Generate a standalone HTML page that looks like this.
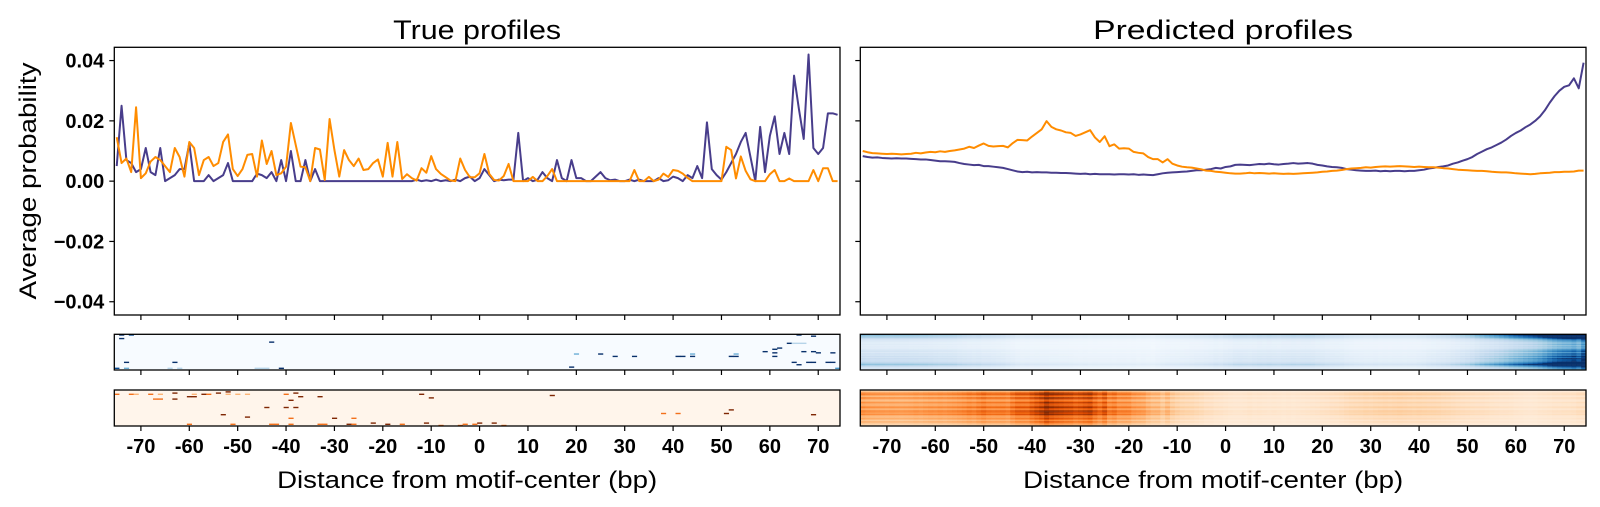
<!DOCTYPE html>
<html><head><meta charset="utf-8"><style>
html,body{margin:0;padding:0;background:#fff;}
svg{display:block;font-family:"Liberation Sans",sans-serif;}
</style></head><body>
<svg id="fig" width="1600" height="507" viewBox="0 0 1600 507" xmlns="http://www.w3.org/2000/svg"></svg>
<script>
// ---- data ----
const positions = []; for (let i = -75; i <= 74; i++) positions.push(i);
const xTickLabels = [-70,-60,-50,-40,-30,-20,-10,0,10,20,30,40,50,60,70];
const yTickValues = [-0.04,-0.02,0,0.02,0.04];
const yTickLabels = ["\u22120.04","\u22120.02","0.00","0.02","0.04"];
const panelTitles = ["True profiles","Predicted profiles"];

const trueStrand1 = [
0.005,0.025,0.007,0.006,0.003,0.004,0.011,0.003,0.002,0.011,
0,0.001,0.002,0.004,0.004,0.0125,0,0,0,0.002,
0,0.001,0.002,0.006,0,0,0,0,0,0.0025,
0.002,0.001,0.003,0,0.007,0,0.01,0,0,0.007,
0,0.004,0,0,0,0,0,0,0,0,
0,0,0,0,0,0,0,0,0,0,
0,0,0.0005,0,0.0003,0,0.0005,0,0.0003,0,
0.0005,0,0.001,0.0015,0,0.001,0.004,0.002,0,0.0005,
0.0003,0.0005,0.0005,0.016,0,0.001,0,0.0005,0.003,0.001,
0,0.007,0.001,0,0.007,0.001,0.001,0,0,0.0015,
0.003,0.001,0.0003,0.0005,0,0,0.0005,0,0.0005,0,
0,0,0.001,0,0.0003,0.0015,0.001,0,0.002,0.001,
0.005,0.001,0.0195,0.004,0.002,0.0005,0.003,0.006,0.009,0.013,
0.016,0.008,0,0.018,0.003,0.015,0.0215,0.009,0.016,0.009,
0.035,0.024,0.014,0.042,0.011,0.009,0.011,0.0225,0.0225,0.022];

const trueStrand2 = [
0.0146,0.006,0.0075,0.003,0.0245,0.001,0.0026,0.0065,0.008,0.007,
0.005,0.003,0.011,0.008,0.0015,0.013,0.011,0.002,0.007,0.008,
0.005,0.006,0.013,0.0155,0.004,0.0017,0.004,0.0087,0.009,0.0015,
0.0135,0.0057,0.010,0.002,0.0026,0.0048,0.0193,0.012,0.0048,0.0046,
0,0.011,0.0105,0.0004,0.0206,0.0103,0.0015,0.0103,0.007,0.005,
0.0075,0.0037,0.004,0.006,0.0072,0.0015,0.0127,0.0015,0.013,0.0007,
0.0023,0.001,0.0002,0.0043,0.0028,0.0083,0.004,0.0024,0.0013,0.0002,
0,0.0075,0.0037,0.0013,0.0013,0.0026,0.009,0.0024,0.0004,
0.0002,0.0017,0.0057,0,0,0,0,0.0014,0,0,0.0017,0.004,0,
0,0,0,0,0,0,0,0,0,0,0,0,0,0,
0,0.0037,0,0,0.0014,0,0.0005,0.0025,0.0014,0.0037,0.0034,0.0025,0.0011,
0,0,0,0,0,0,0,
0.0114,0.0103,0.0009,0.0082,0.0034,0.0006,0,0,0,0.0023,0.0037,0,0,0.0009,
0,0,0,0,0.0037,0,0.0043,0.0043,0,0];

const predStrand1 = [
0.0083,0.0080,0.0078,0.0079,0.0077,0.0076,0.0075,0.0076,0.0075,0.0075,
0.0074,0.0073,0.0072,0.0072,0.0070,0.0068,0.0066,0.0066,0.0065,0.0064,
0.0060,0.0057,0.0055,0.0053,0.0054,0.0050,0.0050,0.0048,0.0046,0.0044,
0.0040,0.0036,0.0032,0.0030,0.0031,0.0029,0.0030,0.0029,0.0029,0.0028,
0.0028,0.0027,0.0027,0.0026,0.0025,0.0024,0.0025,0.0023,0.0024,0.0023,
0.0023,0.0023,0.0022,0.0023,0.0023,0.0022,0.0023,0.0021,0.0022,0.0021,
0.0020,0.0023,0.0026,0.0028,0.0029,0.0030,0.0031,0.0032,0.0034,0.0036,
0.0036,0.0038,0.0040,0.0044,0.0042,0.0047,0.0049,0.0054,0.0055,0.0054,
0.0053,0.0055,0.0057,0.0056,0.0058,0.0056,0.0055,0.0057,0.0058,0.0060,
0.0058,0.0059,0.0060,0.0058,0.0054,0.0052,0.0049,0.0047,0.0046,0.0044,
0.0040,0.0038,0.0036,0.0035,0.0034,0.0034,0.0035,0.0033,0.0034,0.0033,
0.0034,0.0034,0.0033,0.0034,0.0034,0.0036,0.0038,0.0042,0.0044,0.0047,
0.0049,0.0052,0.0058,0.0062,0.0068,0.0073,0.0080,0.0090,0.0098,0.0106,
0.0112,0.0120,0.0128,0.0138,0.0150,0.0160,0.0168,0.0179,0.0188,0.0200,
0.0215,0.0235,0.0260,0.0282,0.0300,0.0313,0.0318,0.0341,0.0308,0.0393];

const predStrand2 = [
0.0100,0.0096,0.0093,0.0092,0.0091,0.0090,0.0091,0.0090,0.0089,0.0090,
0.0091,0.0094,0.0092,0.0095,0.0097,0.0096,0.0099,0.0097,0.0100,0.0102,
0.0105,0.0108,0.0114,0.0110,0.0118,0.0125,0.0117,0.0115,0.0116,0.0117,
0.0112,0.0126,0.0137,0.0136,0.0135,0.0148,0.0160,0.0172,0.0199,0.0180,
0.0172,0.0168,0.0162,0.0160,0.0150,0.0155,0.0162,0.0169,0.0145,0.0130,
0.0149,0.0116,0.0122,0.0108,0.0109,0.0108,0.0097,0.0094,0.0092,0.0080,
0.0073,0.0073,0.0062,0.0073,0.0058,0.0052,0.0048,0.0046,0.0045,0.0042,
0.0039,0.0035,0.0034,0.0031,0.0030,0.0028,0.0026,0.0025,0.0025,0.0026,
0.0028,0.0026,0.0027,0.0026,0.0025,0.0026,0.0025,0.0024,0.0025,0.0024,
0.0025,0.0026,0.0027,0.0028,0.0029,0.0031,0.0032,0.0034,0.0035,0.0037,
0.0040,0.0042,0.0043,0.0044,0.0046,0.0045,0.0047,0.0048,0.0049,0.0048,
0.0049,0.0050,0.0049,0.0048,0.0047,0.0048,0.0047,0.0046,0.0046,0.0045,
0.0043,0.0042,0.0040,0.0038,0.0037,0.0036,0.0035,0.0034,0.0034,0.0033,
0.0031,0.0030,0.0029,0.0029,0.0028,0.0026,0.0025,0.0024,0.0023,0.0024,
0.0026,0.0027,0.0028,0.0030,0.0030,0.0031,0.0031,0.0032,0.0035,0.0035];

// sparse true heatmap cells: [position, row, intensity]
const trueCells1 = [
[-74,0,1],[-72,0,0.9],[-74,3,1],[-43,6,1],[-73,23,1],[-63,23,1],[-75,28,0.9],[-73,28,0.5],[-64,28,0.3],[-62,28,0.3],
[-46,28,0.3],[-45,28,0.3],[-44,28,0.3],[-41,28,1],[19,27,1],[20,16,0.5],[25,16,1],[28,18,1],[32,18,1],[41,18,1],[42,18,1],
[44,16,0.5],[44,18,1],[52,18,1],[53,18,1],[53,16,0.5],[66,0,1],[69,1,1],[64,7,1],[65,7,0.3],[66,7,0.3],[67,7,0.3],
[62,11,1],[59,14,1],[61,12,1],[61,15,1],[61,18,1],[67,14,1],[69,14,1],[70,15,1],[73,15,1],[65,23,1],[66,25,1],
[68,23,1],[69,23,1],[72,23,1],[73,23,1],[74,28,0.6]];
const trueCells2 = [
[-75,3,0.6],[-72,3,0.6],[-71,3,0.35],[-68,3,0.6],[-66,3,0.35],[-63,2,1],[-63,7,1],[-60,5,1],[-59,5,1],[-59,3,0.35],
[-57,3,1],[-56,3,0.6],[-54,2,1],[-52,1,1],[-52,3,0.35],[-50,3,0.35],[-48,3,0.35],[-40,3,0.6],[-38,2,1],[-37,5,1],
[-33,5,1],[-67,7,0.6],[-66,7,0.6],[-39,8,1],[-44,14,1],[-40,14,1],[-38,14,1],[-53,20,1],[-48,22,1],[-39,23,0.6],
[-30,23,1],[-26,23,0.6],[-60,28,0.6],[-51,28,0.6],[-43,28,0.6],[-42,28,0.6],[-39,28,0.6],[-33,28,0.6],[-32,28,0.6],
[-27,28,1],[-26,28,0.6],[-22,27,1],[-19,28,1],[-16,28,0.6],[-12,3,1],[-10,6,1],[-11,27,1],[-8,29,0.6],[-4,29,0.6],
[-3,28,0.6],[-1,28,0.6],[0,27,1],[3,27,1],[5,29,0.6],[15,4,1],[38,19,0.6],[41,19,0.6],[51,19,1],[52,16,1],[69,20,1]];

// per-row weights of predicted heatmaps
const predRowWeights1 = [2.2,1.8,1.6,1.2,0.9,0.7,0.6,0.5,0.6,0.5,0.6,0.5,0.7,0.8,0.9,0.7,1.0,0.8,1.1,0.9,1.2,1.0,1.1,1.3,1.6,2.0,1.4,1.0,0.8,0.6];
const predRowWeights2 = [0.6,0.9,1.4,1.6,1.2,1.0,1.5,1.3,0.9,1.1,1.4,1.2,1.0,1.3,1.5,1.2,1.1,1.6,1.4,1.3,1.5,1.1,0.9,1.2,1.0,0.8,1.1,0.9,0.7,0.6];

// ---- layout ----
const NS = "http://www.w3.org/2000/svg";
const svg = document.getElementById("fig");
const panels = [{x0:114.3,x1:840},{x0:860.3,x1:1586}];
const XMIN = -75.5, XMAX = 74.5, YMIN = -0.0444, YMAX = 0.0444;
const mainTop = 47.3, mainBot = 315;
const hm1 = {t:334.3,b:370}, hm2 = {t:390,b:426};
const NROWS = 30;
function xs(p, v){ return p.x0 + (v - XMIN) / (XMAX - XMIN) * (p.x1 - p.x0); }
function ys(v){ return mainBot - (v - YMIN) / (YMAX - YMIN) * (mainBot - mainTop); }
function el(tag, attrs, parent){
  const e = document.createElementNS(NS, tag);
  for (const k in attrs) e.setAttribute(k, attrs[k]);
  (parent || svg).appendChild(e);
  return e;
}
function lerp(a,b,t){return a+(b-a)*t;}
function cmap(stops, t){
  t = Math.max(0, Math.min(1, t));
  const n = stops.length - 1, i = Math.min(n - 1, Math.floor(t * n)), f = t * n - i;
  const a = stops[i], b = stops[i+1];
  return "rgb(" + Math.round(lerp(a[0],b[0],f)) + "," + Math.round(lerp(a[1],b[1],f)) + "," + Math.round(lerp(a[2],b[2],f)) + ")";
}
const BLUES = [[247,251,255],[222,235,247],[198,219,239],[158,202,225],[107,174,214],[66,146,198],[33,113,181],[8,81,156],[8,48,107]];
const ORANGES = [[255,245,235],[254,230,206],[253,208,162],[253,174,107],[253,141,60],[241,105,19],[217,72,1],[166,54,3],[127,39,4]];
const colors = ["#483d8b", "#ff8c00"];

panels.forEach((p, pi) => {
  const g = el("g", {});
  
  
  const t = el("text", {x:(p.x0+p.x1)/2, y:39, "text-anchor":"middle", "font-size":27, fill:"#000", textLength: pi===0?168:260, lengthAdjust:"spacingAndGlyphs"}, g);
  t.textContent = panelTitles[pi];
  
  
  const cid = "clip" + pi;
  const cp = el("clipPath", {id:cid}, g);
  el("rect", {x:p.x0, y:mainTop, width:p.x1-p.x0, height:mainBot-mainTop}, cp);
  const series = pi === 0 ? [trueStrand1, trueStrand2] : [predStrand1, predStrand2];
  series.forEach((s, si) => {
    let d = "";
    s.forEach((v, i) => { d += (i ? "L" : "M") + xs(p, positions[i]).toFixed(2) + "," + ys(v).toFixed(2); });
    const path = el("path", {d:d, fill:"none", stroke:colors[si], "stroke-width":2, "stroke-linejoin":"round", "clip-path":"url(#"+cid+")"}, g);
    
    
  });
  const fr = el("rect", {x:p.x0, y:mainTop, width:p.x1-p.x0, height:mainBot-mainTop, fill:"none", stroke:"#000", "stroke-width":1.3}, g);
  
  
  yTickValues.forEach((v, i) => {
    const y = ys(v);
    el("line", {x1:p.x0-5, x2:p.x0, y1:y, y2:y, stroke:"#000", "stroke-width":1.2}, g);
    if (pi === 0) {
      const lt = el("text", {x:p.x0-10, y:y+7, "text-anchor":"end", "font-size":20, "font-weight":"bold", fill:"#000"}, g);
      lt.textContent = yTickLabels[i];
      
      
    }
  });
  [hm1, hm2].forEach((h, hi) => {
    const hg = el("g", {}, g);
    
    
    const stops = hi === 0 ? BLUES : ORANGES;
    const rh = (h.b - h.t) / NROWS;
    const cw = (p.x1 - p.x0) / (XMAX - XMIN);
    if (pi === 0) {
      el("rect", {x:p.x0, y:h.t, width:p.x1-p.x0, height:h.b-h.t, fill:cmap(stops,0)}, hg);
      const cells = hi === 0 ? trueCells1 : trueCells2;
      cells.forEach(c => {
        const r = el("rect", {x:xs(p, c[0]-0.5), y:h.t + c[1]*rh, width:cw+0.3, height:rh+0.2, fill:cmap(stops, c[2])}, hg);
        
        
      });
    } else {
      const prof = hi === 0 ? predStrand1 : predStrand2;
      const rw = hi === 0 ? predRowWeights1 : predRowWeights2;
      const vmax = hi === 0 ? 0.038 : 0.028;
      for (let r = 0; r < NROWS; r++) {
        for (let i = 0; i < prof.length; i++) {
          el("rect", {x:xs(p, positions[i]-0.5), y:h.t + r*rh, width:cw+0.4, height:rh+0.2, fill:cmap(stops, rw[r]*prof[i]/vmax)}, hg);
        }
      }
    }
    el("rect", {x:p.x0, y:h.t, width:p.x1-p.x0, height:h.b-h.t, fill:"none", stroke:"#000", "stroke-width":1.3}, hg);
  });
  [mainBot, hm1.b, hm2.b].forEach(yb => {
    xTickLabels.forEach(v => {
      const x = xs(p, v);
      el("line", {x1:x, x2:x, y1:yb, y2:yb+5, stroke:"#000", "stroke-width":1.2}, g);
    });
  });
  xTickLabels.forEach(v => {
    const lt = el("text", {x:xs(p, v), y:453, "text-anchor":"middle", "font-size":20, "font-weight":"bold", fill:"#000"}, g);
    lt.textContent = v < 0 ? "-" + Math.abs(v) : String(v);
    
    
  });
  const xl = el("text", {x:(p.x0+p.x1)/2 - 10, y:488, "text-anchor":"middle", "font-size":24, fill:"#000", textLength:380, lengthAdjust:"spacingAndGlyphs"}, g);
  xl.textContent = "Distance from motif-center (bp)";
  
  
});
const yl = el("text", {x:0, y:0, transform:"translate(36,181) rotate(-90)", "text-anchor":"middle", "font-size":24, fill:"#000", textLength:237, lengthAdjust:"spacingAndGlyphs"});
yl.textContent = "Average probability";


</script>
</body></html>
